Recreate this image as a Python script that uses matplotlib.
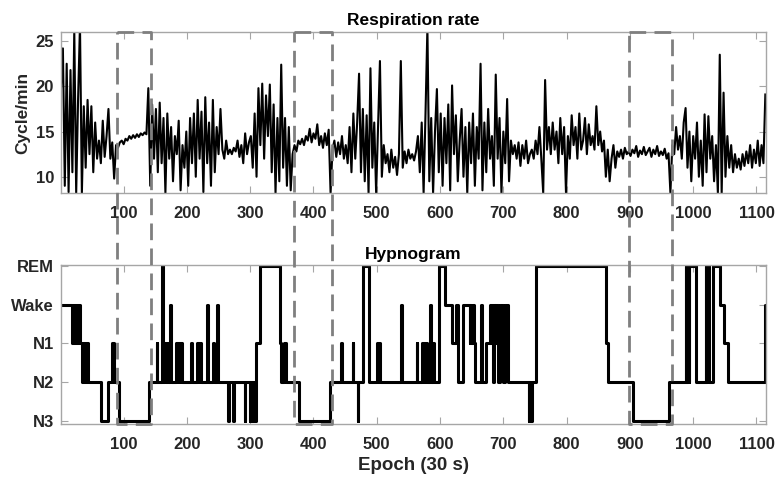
import numpy as np
import matplotlib
matplotlib.use("Agg")
import matplotlib.pyplot as plt
from matplotlib.transforms import blended_transform_factory

plt.rcParams['font.family'] = ['Liberation Sans', 'DejaVu Sans']
plt.rcParams['font.weight'] = 'bold'

# respiration rate (cycle/min), sampled every 3 epochs starting at epoch 1
resp_epoch = np.arange(1, 1115, 3)
resp_rate = [
    19.8, 24.2, 9.0, 22.5, 8.3, 21.8, 10.5, 26.2, 8.2, 18.6,
    26.8, 8.2, 17.8, 11.0, 18.5, 12.5, 17.8, 10.5, 16.0, 12.0,
    14.0, 11.5, 16.2, 12.2, 14.5, 17.5, 12.0, 13.8, 9.8, 13.5,
    13.2, 13.8, 14.0, 13.6, 14.2, 14.0, 14.5, 14.2, 14.6, 14.3,
    14.7, 14.4, 14.8, 14.6, 14.9, 14.7, 19.8, 9.0, 18.0, 12.0,
    17.5, 10.5, 18.2, 11.5, 16.5, 8.2, 17.0, 12.0, 15.5, 9.5,
    14.5, 12.5, 16.2, 8.5, 13.5, 11.0, 15.0, 9.0, 16.5, 11.5,
    17.0, 10.0, 18.5, 12.0, 17.2, 8.3, 18.8, 11.5, 16.0, 9.0,
    18.5, 10.5, 15.5, 12.5, 17.5, 13.0, 12.0, 14.0, 12.5, 13.0,
    12.5, 13.2, 12.8, 14.0, 12.2, 13.5, 11.5, 14.8, 12.5, 13.8,
    14.5, 11.0, 17.0, 10.0, 19.8, 13.5, 20.3, 12.0, 19.0, 14.5,
    20.2, 10.5, 18.0, 8.2, 16.5, 9.5, 22.4, 11.0, 16.5, 9.0,
    15.5, 8.5, 12.5, 13.5, 12.8, 14.0, 13.6, 14.2, 13.5, 14.5,
    14.0, 15.3, 13.8, 14.8, 14.2, 15.8, 13.5, 14.5, 13.2, 14.8,
    13.5, 15.2, 8.2, 13.0, 14.0, 12.2, 13.8, 12.5, 14.5, 12.0,
    13.5, 11.5, 15.5, 10.5, 17.0, 12.0, 16.0, 21.4, 10.5, 17.5,
    9.5, 16.8, 8.2, 22.0, 11.0, 16.0, 8.2, 15.5, 22.8, 10.0,
    13.5, 11.5, 12.5, 10.5, 13.0, 11.0, 12.2, 10.2, 12.5, 22.8,
    11.0, 12.8, 11.5, 13.0, 12.0, 12.5, 11.8, 12.8, 14.5, 10.5,
    16.0, 8.2, 17.0, 26.5, 9.5, 16.5, 8.2, 15.0, 19.7, 10.5,
    17.0, 9.0, 16.5, 11.5, 18.0, 8.5, 20.1, 12.5, 16.8, 9.5,
    14.0, 17.5, 10.0, 15.5, 8.2, 16.0, 11.5, 17.0, 9.0, 15.5,
    12.0, 22.5, 8.5, 16.0, 10.5, 17.5, 12.0, 14.5, 9.0, 21.3,
    12.0, 16.5, 8.2, 15.0, 11.5, 18.6, 9.5, 14.0, 12.5, 13.5,
    12.0, 13.8, 11.2, 13.5, 12.0, 14.0, 11.5, 12.5, 13.0, 12.0,
    14.0, 12.5, 15.5, 12.0, 8.2, 20.7, 13.0, 15.5, 12.5, 16.0,
    13.0, 15.0, 11.5, 16.5, 12.5, 15.5, 8.2, 14.5, 12.0, 16.8,
    13.5, 15.5, 12.0, 17.0, 13.0, 14.0, 16.5, 12.5, 15.8, 13.5,
    14.5, 13.0, 17.8, 13.5, 15.0, 12.8, 14.0, 10.0, 13.0, 9.5,
    12.0, 13.5, 11.0, 12.8, 12.2, 13.0, 12.0, 13.2, 12.5, 12.8,
    12.3, 13.0, 12.6, 13.4, 12.2, 12.9, 12.5, 13.3, 12.4, 12.8,
    13.2, 12.2, 13.0, 12.5, 13.4, 12.3, 12.8, 12.4, 13.1, 12.0,
    12.6, 8.2, 13.5, 12.5, 15.5, 13.0, 14.5, 12.0, 16.0, 17.6,
    11.0, 15.0, 9.5, 14.5, 12.0, 16.0, 10.0, 14.0, 9.0, 16.9,
    10.5, 16.7, 12.0, 14.5, 9.5, 13.5, 8.2, 23.5, 8.2, 19.3,
    10.0, 14.5, 11.0, 13.5, 10.5, 12.5, 11.0, 12.0, 10.8, 12.5,
    11.2, 12.8, 11.5, 13.5, 11.0, 13.0, 11.5, 14.0, 11.2, 13.5,
    11.5, 19.1,
]

# hypnogram: epoch where each stage starts, and the stage
stage_names = ['N3', 'N2', 'N1', 'Wake', 'REM']
stage_level = {'N3': 1, 'N2': 2, 'N1': 3, 'W': 4, 'REM': 5}
hyp_start = [
    1, 18, 20, 22, 23, 25, 26, 28, 29, 31, 34, 36, 38, 39, 41, 42, 44, 64, 76, 82, 84, 93,
    140, 152, 153, 160, 162, 164, 165, 166, 167, 168, 170, 174, 175,
    182, 184, 185, 187, 188, 190, 191, 192, 207, 208, 216, 217, 218, 220, 221, 222,
    232, 233, 241, 242, 248, 249, 265, 266, 273, 274, 291, 292,
    299, 300, 301, 303, 304, 306, 307, 309, 315, 347, 349, 354, 356, 377, 426,
    444, 445, 462, 463, 470, 471, 479, 487, 501, 502, 504, 505, 539, 540,
    563, 564, 571, 573, 574, 576, 577, 579, 584, 585, 589, 590, 598, 608,
    619, 625, 628, 637, 647, 648, 649, 650, 651, 652, 653, 655, 659,
    664, 666, 672, 679, 681, 682, 684, 686, 688, 690, 692, 694, 696, 698, 700, 702, 704, 705, 707,
    740, 741, 742, 743, 744, 745, 752, 862, 866, 905, 961,
    988, 989, 990, 991, 992, 993, 994, 1004, 1020, 1021, 1022, 1023, 1024, 1025,
    1031, 1042, 1048, 1055, 1114, 1115,
]
hyp_stage = [
    'W', 'N1', 'W', 'N1', 'W', 'N1', 'W', 'N1', 'W', 'N1', 'N2', 'N1', 'N2', 'N1', 'N2', 'N1', 'N2', 'N3', 'N2', 'N1', 'N2', 'N3',
    'N2', 'N1', 'N2', 'REM', 'N2', 'N1', 'N2', 'N1', 'N2', 'N1', 'N2', 'W', 'N2',
    'N1', 'N2', 'N1', 'N2', 'N1', 'N2', 'N1', 'N2', 'N1', 'N2', 'N1', 'N2', 'N1', 'N2', 'N1', 'N2',
    'W', 'N2', 'N1', 'N2', 'W', 'N2', 'N3', 'N2', 'N3', 'N2', 'N3', 'N2',
    'N3', 'N2', 'N3', 'N2', 'N3', 'N2', 'N3', 'N1', 'REM', 'N1', 'N2', 'N1', 'N2', 'N3', 'N2',
    'N1', 'N2', 'N1', 'N2', 'N3', 'N2', 'REM', 'N2', 'N1', 'N2', 'N1', 'N2', 'W', 'N2',
    'N1', 'N2', 'N1', 'N2', 'N1', 'N2', 'N1', 'N2', 'W', 'N2', 'N1', 'N2', 'REM', 'W',
    'N1', 'W', 'N2', 'W', 'N1', 'W', 'N1', 'W', 'N1', 'W', 'N1', 'N2', 'N2',
    'W', 'N2', 'N1', 'W', 'N1', 'W', 'N2', 'W', 'N1', 'W', 'N2', 'W', 'N1', 'W', 'N2', 'W', 'N1', 'W', 'N2',
    'N3', 'N2', 'N3', 'N2', 'N3', 'N2', 'REM', 'N1', 'N2', 'N3', 'N2',
    'REM', 'N2', 'REM', 'N2', 'REM', 'N2', 'REM', 'N2', 'REM', 'N2', 'REM', 'N2', 'REM', 'N2',
    'REM', 'W', 'N1', 'N2', 'W', 'W',
]

# dashed boxes around the deep sleep periods (epochs)
box_start = [90, 369, 899]
box_end = [144, 429, 967]

fig = plt.figure(figsize=(7.77, 4.79), dpi=100)
ax1 = fig.add_axes([0.0785, 0.597, 0.9073, 0.336])
ax2 = fig.add_axes([0.0785, 0.1148, 0.9073, 0.332])

axcol = '#a6a6a6'
txtcol = '#262626'
for ax in (ax1, ax2):
    for s in ax.spines.values():
        s.set_color(axcol)
        s.set_linewidth(1.0)
    ax.tick_params(direction='in', top=True, right=True, length=5, color=axcol,
                   labelsize=12, labelcolor=txtcol, pad=5)
    ax.tick_params(axis='x', pad=9)
    ax.set_xlim(1, 1115)
    ax.set_xticks(np.arange(100, 1101, 100))

ax1.plot(resp_epoch, resp_rate, color='black', lw=1.5)
ax1.set_ylim(8.2, 26)
ax1.set_yticks([10, 15, 20, 25])
ax1.set_ylabel('Cycle/min', fontsize=12.5, fontweight='bold', color=txtcol, labelpad=4)
ax1.set_title('Respiration rate', fontsize=12.5, fontweight='bold', pad=5)

levels = [stage_level[s] for s in hyp_stage]
ax2.step(hyp_start, levels, where='post', color='black', lw=2.2)
ax2.set_ylim(0.915, 5.03)
ax2.set_yticks([1, 2, 3, 4, 5])
ax2.set_yticklabels(stage_names)
ax2.set_xlabel('Epoch (30 s)', fontsize=13.5, fontweight='bold', color=txtcol, labelpad=4)
ax2.set_title('Hypnogram', fontsize=12.5, fontweight='bold', pad=4)

# boxes spanning both panels: x in data units, y in figure fraction
tr = blended_transform_factory(ax1.transData, fig.transFigure)
y_top = 0.597 + 0.336
y_bot = 0.1148
for a, b in zip(box_start, box_end):
    fig.add_artist(plt.Line2D([a, b, b, a, a], [y_top, y_top, y_bot, y_bot, y_top],
                              transform=tr, color='#7f7f7f', lw=2.0,
                              dashes=(6, 3), clip_on=False))

fig.savefig('out.png', dpi=100)
